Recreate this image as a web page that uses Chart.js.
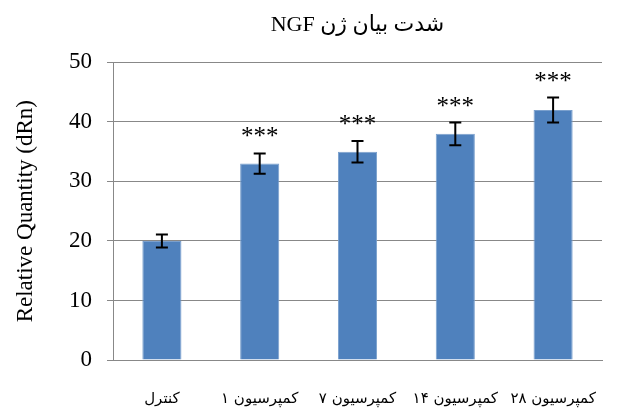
<!DOCTYPE html>
<html>
<head>
<meta charset="utf-8">
<script src="https://cdn.jsdelivr.net/npm/chart.js@4"></script>
<style>
  body { margin: 0; background: #fff; }
</style>
</head>
<body>
<canvas id="chart" width="622" height="410"></canvas>
<script>
var categories = ['کنترل', 'کمپرسیون ۱', 'کمپرسیون ۷', 'کمپرسیون ۱۴', 'کمپرسیون ۲۸'];
var values = [20, 33, 35, 38, 42];
var errors = [1.1, 1.7, 1.8, 1.9, 2.1];
var stars = ['', '***', '***', '***', '***'];
var yTicks = [0, 10, 20, 30, 40, 50];

// error bars and significance marks
var errorBarPlugin = {
    id: 'errorBars',
    afterDatasetsDraw: function (chart) {
        var ctx = chart.ctx;
        var y = chart.scales.y;
        var meta = chart.getDatasetMeta(0);
        ctx.save();
        ctx.strokeStyle = '#000';
        ctx.lineWidth = 2;
        meta.data.forEach(function (bar, i) {
            var top = y.getPixelForValue(values[i] + errors[i]);
            var bot = y.getPixelForValue(values[i] - errors[i]);
            var x = bar.x;
            ctx.beginPath();
            ctx.moveTo(x, top); ctx.lineTo(x, bot);
            ctx.moveTo(x - 6, top); ctx.lineTo(x + 6, top);
            ctx.moveTo(x - 6, bot); ctx.lineTo(x + 6, bot);
            ctx.stroke();
            if (stars[i]) {
                ctx.fillStyle = '#000';
                ctx.font = '25px "Liberation Serif", serif';
                ctx.textAlign = 'center';
                ctx.textBaseline = 'alphabetic';
                ctx.fillText(stars[i], x, top - 9);
            }
        });
        ctx.restore();
    }
};

new Chart(document.getElementById('chart'), {
    type: 'bar',
    data: {
        labels: categories,
        datasets: [{
            data: values,
            backgroundColor: '#4F81BD',
            borderColor: '#7BA0CD',
            borderWidth: 1,
            categoryPercentage: 1,
            barPercentage: 0.4
        }]
    },
    options: {
        responsive: false,
        animation: false,
        layout: { padding: { left: 0, right: 20, top: 0, bottom: 0 } },
        plugins: {
            legend: { display: false },
            tooltip: { enabled: false },
            title: {
                display: true,
                fullSize: false,
                text: '\u202Bشدت بیان ژن NGF\u202C',
                color: '#000',
                font: { family: '"Liberation Serif", "DejaVu Sans", serif', size: 22, weight: 'normal' },
                padding: { top: 12, bottom: 24 }
            }
        },
        scales: {
            x: {
                afterFit: function (axis) { axis.height = 50; },
                grid: { display: false },
                border: { color: '#888', width: 1 },
                ticks: {
                    color: '#000',
                    padding: 22,
                    maxRotation: 0,
                    autoSkip: false,
                    font: { family: '"DejaVu Sans", sans-serif', size: 15 }
                }
            },
            y: {
                min: 0,
                max: 50,
                afterBuildTicks: function (axis) {
                    axis.ticks = yTicks.map(function (v) { return { value: v }; });
                },
                afterFit: function (axis) { axis.width = 113; },
                grid: { color: '#888', lineWidth: 1, tickLength: 6 },
                border: { color: '#888', width: 1 },
                ticks: {
                    color: '#000',
                    padding: 15,
                    font: { family: '"Liberation Serif", serif', size: 23 }
                },
                title: {
                    display: true,
                    text: 'Relative Quantity (dRn)',
                    color: '#000',
                    font: { family: '"Liberation Serif", serif', size: 23 },
                    padding: { top: 12, bottom: 0 }
                }
            }
        }
    },
    plugins: [errorBarPlugin]
});
</script>
</body>
</html>
